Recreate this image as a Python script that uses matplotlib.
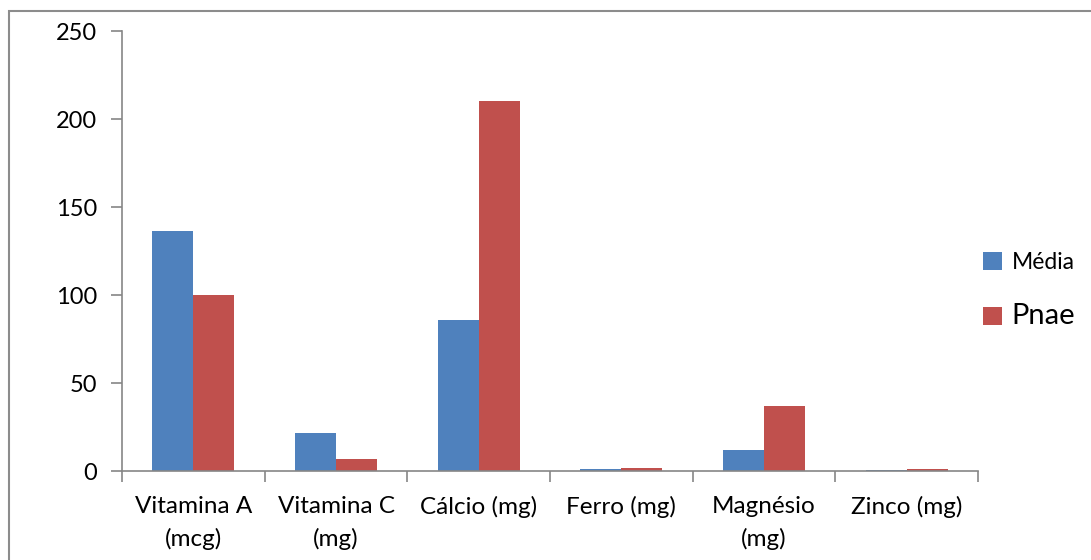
import numpy as np
import matplotlib.pyplot as plt
from matplotlib.patches import Rectangle

categories = ['Vitamina A\n(mcg)', 'Vitamina C\n(mg)', 'Cálcio (mg)', 'Ferro (mg)',
              'Magnésio\n(mg)', 'Zinco (mg)']
media = [136.4, 21.6, 86.0, 0.9, 12.2, 0.8]
pnae = [100.0, 6.8, 210.0, 1.8, 37.0, 1.3]

blue = '#4F81BD'
red = '#C0504D'
axis_gray = '#868686'

plt.rcParams['font.family'] = ['Lato', 'DejaVu Sans']

fig = plt.figure(figsize=(10.91, 5.6), dpi=100)
ax = fig.add_axes([122 / 1091, 1 - 471 / 560, (978 - 122) / 1091, (471 - 31) / 560])

# chart border like the spreadsheet frame
fig.patches.append(Rectangle((9 / 1091, -0.1), 1.2, 1 - 11 / 560 + 0.1,
                             transform=fig.transFigure, fill=False,
                             edgecolor='#8c8c8c', linewidth=1.5))

x = np.arange(len(categories))
w = 0.287
ax.bar(x - w / 2, media, w, color=blue, label='Média')
ax.bar(x + w / 2, pnae, w, color=red, label='Pnae')

ax.set_xlim(-0.5, len(categories) - 0.5)
ax.set_ylim(0, 250)
ax.set_yticks(range(0, 251, 50))
ax.set_xticks(x)
ax.set_xticklabels(categories, fontsize=17.5, linespacing=1.6)
ax.set_xticks(np.arange(-0.5, len(categories), 1), minor=True)
ax.tick_params(axis='x', which='major', length=0, pad=18)
ax.tick_params(axis='x', which='minor', length=8, width=1.2, color=axis_gray)
ax.tick_params(axis='y', length=8, width=1.2, color=axis_gray, labelsize=17, pad=10)

for s in ['top', 'right']:
    ax.spines[s].set_visible(False)
for s in ['left', 'bottom']:
    ax.spines[s].set_color(axis_gray)
    ax.spines[s].set_linewidth(1.2)

# legend with differing text sizes
leg = ax.legend(loc='center left', bbox_to_anchor=(0.982, 0.41), frameon=False,
                handlelength=0.8, handleheight=0.8, handletextpad=0.45,
                labelspacing=1.3, fontsize=16.5)
leg.get_texts()[1].set_fontsize(21)

fig.savefig('out.png', dpi=100)
